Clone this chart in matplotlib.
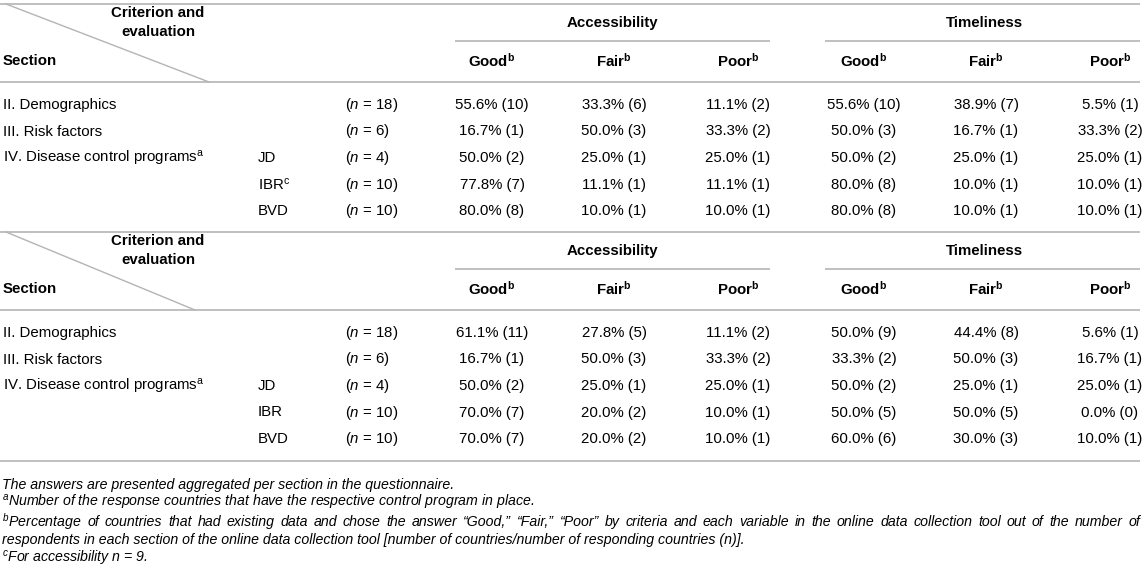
import matplotlib
matplotlib.use("Agg")
import matplotlib.pyplot as plt

plt.rcParams['font.family'] = ['Liberation Sans', 'DejaVu Sans']
plt.rcParams['mathtext.fontset'] = 'custom'
plt.rcParams['mathtext.rm'] = 'Liberation Sans'
plt.rcParams['mathtext.it'] = 'Liberation Sans:italic'
plt.rcParams['mathtext.bf'] = 'Liberation Sans:bold'

# ---- data ----
sections = ["II. Demographics", "III. Risk factors",
            "IV. Disease control programs$^{\\mathrm{a}}$", "", ""]
programs_top = ["", "", "JD", "IBR$^{\\mathrm{c}}$", "BVD"]
programs_bot = ["", "", "JD", "IBR", "BVD"]
n_resp = [18, 6, 4, 10, 10]
criteria = ["Accessibility", "Timeliness"]
ratings = ["Good", "Fair", "Poor"]

# columns: acc good, acc fair, acc poor, tim good, tim fair, tim poor
top_pct = [[55.6, 33.3, 11.1, 55.6, 38.9, 5.5],
           [16.7, 50.0, 33.3, 50.0, 16.7, 33.3],
           [50.0, 25.0, 25.0, 50.0, 25.0, 25.0],
           [77.8, 11.1, 11.1, 80.0, 10.0, 10.0],
           [80.0, 10.0, 10.0, 80.0, 10.0, 10.0]]
top_cnt = [[10, 6, 2, 10, 7, 1],
           [1, 3, 2, 3, 1, 2],
           [2, 1, 1, 2, 1, 1],
           [7, 1, 1, 8, 1, 1],
           [8, 1, 1, 8, 1, 1]]
bot_pct = [[61.1, 27.8, 11.1, 50.0, 44.4, 5.6],
           [16.7, 50.0, 33.3, 33.3, 50.0, 16.7],
           [50.0, 25.0, 25.0, 50.0, 25.0, 25.0],
           [70.0, 20.0, 10.0, 50.0, 50.0, 0.0],
           [70.0, 20.0, 10.0, 60.0, 30.0, 10.0]]
bot_cnt = [[11, 5, 2, 9, 8, 1],
           [1, 3, 2, 2, 3, 1],
           [2, 1, 1, 2, 1, 1],
           [7, 2, 1, 5, 5, 0],
           [7, 2, 1, 6, 3, 1]]

footnotes = [
    "The answers are presented aggregated per section in the questionnaire.",
    "$^{a}$Number of the response countries that have the respective control program in place.",
    "$^{b}$Percentage of countries that had existing data and chose the answer \u201cGood,\u201d \u201cFair,\u201d \u201cPoor\u201d "
    "by criteria and each variable in the online data collection tool out of the number of",
    "respondents in each section of the online data collection tool [number of countries/number of responding countries (n)].",
    "$^{c}$For accessibility $n$ = 9.",
]

# ---- layout ----
W, H = 1146, 572
fs = 10.8
fs_note = 10.2
line_c = '#b4b4b4'
col_x = [492, 614, 738, 864, 986, 1110]
crit_x = [612, 984]
crit_span = [(455, 770), (825, 1140)]

fig = plt.figure(figsize=(W / 100, H / 100), dpi=100)
ax = fig.add_axes([0, 0, 1, 1])
ax.set_xlim(0, W)
ax.set_ylim(H, 0)
ax.axis('off')


def hline(y, x0=0, x1=1140):
    ax.plot([x0, x1], [y, y], color=line_c, lw=1.2, solid_capstyle='butt')


def draw_table(y0, diag_end, programs, pct, cnt):
    hline(y0)
    ax.plot([6, diag_end], [y0, y0 + 78], color=line_c, lw=1.0)
    ax.text(158, y0 + 9, "Criterion and", ha='center', va='center',
            fontsize=fs, fontweight='bold')
    ax.text(158, y0 + 28, "evaluation", ha='center', va='center',
            fontsize=fs, fontweight='bold')
    ax.text(3, y0 + 57, "Section", ha='left', va='center',
            fontsize=fs, fontweight='bold')
    for k, name in enumerate(criteria):
        ax.text(crit_x[k], y0 + 19, name, ha='center', va='center',
                fontsize=fs, fontweight='bold')
        hline(y0 + 37, *crit_span[k])
        for j, r in enumerate(ratings):
            ax.text(col_x[3 * k + j], y0 + 57, r + "$^{\\mathbf{b}}$",
                    ha='center', va='center', fontsize=fs, fontweight='bold')
    hline(y0 + 78)
    for i in range(len(sections)):
        y = y0 + 101 + 26.5 * i
        ax.text(3, y, sections[i], ha='left', va='center', fontsize=fs)
        ax.text(258, y, programs[i], ha='left', va='center', fontsize=fs)
        ax.text(345, y, "($\\mathit{n}$ = %d)" % n_resp[i], ha='left',
                va='center', fontsize=fs)
        for j in range(6):
            ax.text(col_x[j], y, "%.1f%% (%d)" % (pct[i][j], cnt[i][j]),
                    ha='center', va='center', fontsize=fs)


draw_table(4, 209, programs_top, top_pct, top_cnt)
draw_table(232, 195, programs_bot, bot_pct, bot_cnt)
hline(461)

# footnotes; the long one is justified to the table width
renderer = fig.canvas.get_renderer()
foot_y = [485, 503, 522, 540, 558]
for k, txt in enumerate(footnotes):
    if k == 2:
        words = txt.split(" ")
        arts = [ax.text(0, foot_y[k], w, ha='left', va='center',
                        fontsize=fs_note, style='italic') for w in words]
        inv = ax.transData.inverted()
        widths = []
        for a in arts:
            bb = a.get_window_extent(renderer)
            p0 = inv.transform((bb.x0, bb.y0))
            p1 = inv.transform((bb.x1, bb.y0))
            widths.append(p1[0] - p0[0])
        gap = (1140 - 2 - sum(widths)) / (len(words) - 1)
        x = 2
        for a, w in zip(arts, widths):
            a.set_x(x)
            x += w + gap
    else:
        ax.text(2, foot_y[k], txt, ha='left', va='center', fontsize=fs_note,
                style='italic')

fig.savefig("out.png", dpi=100)
